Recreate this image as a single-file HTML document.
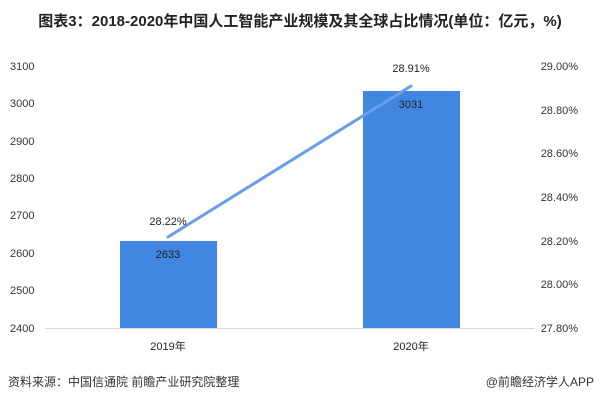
<!DOCTYPE html>
<html><head><meta charset="utf-8"><style>
body{margin:0;background:#fff;}
svg text{font-family:"Liberation Sans","Noto Sans CJK SC",sans-serif;}
</style></head><body>
<svg width="600" height="402" viewBox="0 0 600 402" xmlns="http://www.w3.org/2000/svg">
<rect width="600" height="402" fill="#fff"/>
<text x="300" y="26" text-anchor="middle" font-size="15" font-weight="bold" fill="#222">图表3：2018-2020年中国人工智能产业规模及其全球占比情况(单位：亿元，%)</text>
<g font-size="11" fill="#333">
<text x="10" y="70">3100</text>
<text x="10" y="107">3000</text>
<text x="10" y="145">2900</text>
<text x="10" y="182">2800</text>
<text x="10" y="219">2700</text>
<text x="10" y="257">2600</text>
<text x="10" y="294">2500</text>
<text x="10" y="332">2400</text>
<g text-anchor="end">
<text x="578" y="70">29.00%</text>
<text x="578" y="114">28.80%</text>
<text x="578" y="157">28.60%</text>
<text x="578" y="201">28.40%</text>
<text x="578" y="245">28.20%</text>
<text x="578" y="288">28.00%</text>
<text x="578" y="332">27.80%</text>
</g>
</g>
<line x1="45" y1="328.5" x2="535" y2="328.5" stroke="#d9d9d9" stroke-width="1"/>
<rect x="120" y="241" width="97" height="87" fill="#4186e0"/>
<rect x="363" y="91" width="97" height="237" fill="#4186e0"/>
<line x1="168" y1="237" x2="411" y2="86" stroke="#6a9ee8" stroke-width="3" stroke-linecap="round"/>
<g font-size="11" fill="#222" text-anchor="middle">
<text x="168" y="225">28.22%</text>
<text x="168" y="258">2633</text>
<text x="411" y="72">28.91%</text>
<text x="411" y="108">3031</text>
<text x="168" y="350">2019年</text>
<text x="411" y="350">2020年</text>
</g>
<text x="8" y="386" font-size="12" fill="#333">资料来源：中国信通院 前瞻产业研究院整理</text>
<text x="594" y="386" font-size="12" fill="#333" text-anchor="end">@前瞻经济学人APP</text>
</svg>
</body></html>
